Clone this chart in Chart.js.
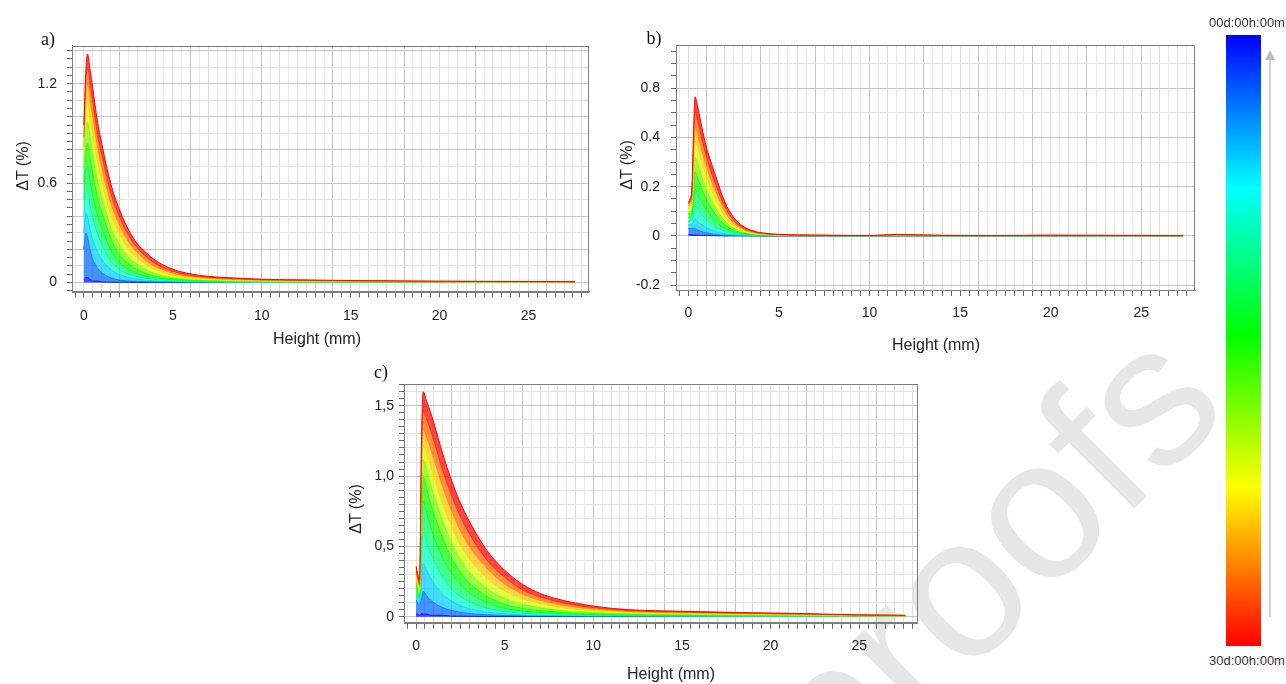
<!DOCTYPE html>
<html>
<head>
<meta charset="utf-8">
<script src="https://cdn.jsdelivr.net/npm/chart.js@4.4.1/dist/chart.umd.min.js"></script>
<style>
  body { margin: 0; background: #fff; width: 1286px; height: 684px; position: relative; overflow: hidden;
         font-family: "Liberation Sans", Arial, sans-serif; color: #222; }
  canvas { position: absolute; z-index: 1; }
  .lbl { position: absolute; white-space: nowrap; transform: translate(-50%, -50%); z-index: 2; }
  .ytitle { font-size: 16px; transform: translate(-50%, -50%) rotate(-90deg); }
  .xtitle { font-size: 16px; }
  .panel { font-family: "Liberation Serif", "Times New Roman", serif; font-size: 18px; color: #111; }
  .cb { font-size: 13px; color: #333; }
  #bar { position: absolute; left: 1226px; top: 35px; width: 35px; height: 611px; z-index: 2;
         background: linear-gradient(to bottom, #0000ff 0%, #00ffff 25%, #00ff00 49%, #ffff00 74%, #ff0000 100%); }
</style>
</head>
<body>
<svg width="1286" height="684" style="position:absolute;left:0;top:0;z-index:0">
  <text x="1232" y="411" text-anchor="end" transform="rotate(-45 1232 411)"
        font-family="Liberation Sans, Arial, sans-serif" font-size="200" fill="#e6e6e6">Journal Pre-proofs</text>
</svg>

<canvas id="chartA" width="600" height="345" style="left:0;top:0"></canvas>
<canvas id="chartB" width="610" height="350" style="left:600px;top:0"></canvas>
<canvas id="chartC" width="600" height="334" style="left:330px;top:350px"></canvas>

<div class="lbl panel" style="left:48px;top:39px">a)</div>
<div class="lbl panel" style="left:654px;top:38px">b)</div>
<div class="lbl panel" style="left:381px;top:372px">c)</div>

<div class="lbl ytitle" style="left:23px;top:166px">ΔT (%)</div>
<div class="lbl ytitle" style="left:627px;top:165px">ΔT (%)</div>
<div class="lbl ytitle" style="left:356px;top:509px">ΔT (%)</div>

<div class="lbl xtitle" style="left:317px;top:339px">Height (mm)</div>
<div class="lbl xtitle" style="left:936px;top:345px">Height (mm)</div>
<div class="lbl xtitle" style="left:671px;top:674px">Height (mm)</div>

<div id="bar"></div>
<div class="lbl cb" style="left:1247px;top:22px">00d:00h:00m</div>
<div class="lbl cb" style="left:1247px;top:660px">30d:00h:00m</div>
<svg width="20" height="600" style="position:absolute;left:1260px;top:40px;z-index:2">
  <line x1="10" y1="18" x2="10" y2="577" stroke="#d0d0d0" stroke-width="2"/>
  <polygon points="5,20 15,20 10,10" fill="#bcbcbc"/>
</svg>

<script>
// scan times, one profile per time (blue = first, red = last)
const TIME_LABELS = ['00d:00h:00m', '03d:00h:00m', '06d:00h:00m', '09d:00h:00m', '12d:00h:00m', '15d:00h:00m',
                     '18d:00h:00m', '21d:00h:00m', '24d:00h:00m', '27d:00h:00m', '30d:00h:00m'];

const X_TICK_VALUES = [0, 5, 10, 15, 20, 25];
const X_TICK_LABELS = ['0', '5', '10', '15', '20', '25'];

// panel a
const A_HEIGHT = [0, 0.1, 0.2, 0.35, 0.5, 0.75, 1, 1.5, 2, 2.5, 3, 3.5, 4, 5, 6, 7, 8, 10, 12, 15, 20, 25, 27.6];
const A_DT = [
  [0.02, 0.03, 0.03, 0.02, 0.01, 0.01, 0.005, 0.003, 0.002, 0.002, 0.001, 0.001, 0.001, 0, 0, 0, 0, 0, 0, 0, 0, 0, 0],
  [0.20, 0.30, 0.28, 0.20, 0.14, 0.09, 0.06, 0.03, 0.015, 0.01, 0.007, 0.005, 0.004, 0.003, 0.002, 0.002, 0.001, 0.001, 0.001, 0.001, 0.001, 0, 0],
  [0.30, 0.42, 0.40, 0.32, 0.26, 0.19, 0.14, 0.08, 0.05, 0.03, 0.02, 0.014, 0.01, 0.006, 0.004, 0.003, 0.002, 0.002, 0.001, 0.001, 0.001, 0.001, 0.001],
  [0.40, 0.55, 0.55, 0.46, 0.39, 0.30, 0.23, 0.13, 0.08, 0.05, 0.035, 0.025, 0.018, 0.01, 0.007, 0.005, 0.004, 0.003, 0.002, 0.002, 0.001, 0.001, 0.001],
  [0.50, 0.68, 0.70, 0.61, 0.52, 0.41, 0.33, 0.20, 0.12, 0.08, 0.055, 0.038, 0.028, 0.016, 0.01, 0.008, 0.006, 0.004, 0.003, 0.003, 0.002, 0.002, 0.001],
  [0.60, 0.80, 0.84, 0.75, 0.66, 0.52, 0.43, 0.27, 0.17, 0.115, 0.08, 0.055, 0.04, 0.023, 0.015, 0.011, 0.008, 0.006, 0.005, 0.004, 0.003, 0.002, 0.002],
  [0.68, 0.92, 0.97, 0.88, 0.78, 0.63, 0.52, 0.34, 0.23, 0.155, 0.11, 0.077, 0.055, 0.031, 0.02, 0.015, 0.011, 0.008, 0.006, 0.005, 0.004, 0.003, 0.003],
  [0.76, 1.02, 1.08, 0.99, 0.89, 0.73, 0.61, 0.41, 0.29, 0.20, 0.145, 0.105, 0.075, 0.043, 0.027, 0.02, 0.015, 0.011, 0.008, 0.007, 0.005, 0.004, 0.003],
  [0.82, 1.12, 1.19, 1.09, 0.99, 0.82, 0.69, 0.48, 0.345, 0.245, 0.18, 0.13, 0.095, 0.055, 0.035, 0.025, 0.019, 0.013, 0.01, 0.008, 0.006, 0.005, 0.004],
  [0.88, 1.20, 1.29, 1.19, 1.08, 0.90, 0.77, 0.54, 0.395, 0.285, 0.21, 0.155, 0.115, 0.067, 0.043, 0.031, 0.024, 0.016, 0.013, 0.01, 0.007, 0.005, 0.004],
  [0.95, 1.26, 1.38, 1.28, 1.17, 0.98, 0.84, 0.60, 0.44, 0.32, 0.235, 0.18, 0.135, 0.08, 0.052, 0.037, 0.03, 0.02, 0.016, 0.012, 0.008, 0.006, 0.005]
];
const A_Y_TICK_VALUES = [0, 0.6, 1.2];
const A_Y_TICK_LABELS = ['0', '0.6', '1.2'];

// panel b
const B_HEIGHT = [0, 0.1, 0.2, 0.3, 0.37, 0.5, 0.75, 1, 1.25, 1.5, 2, 2.5, 3, 3.5, 4, 5, 6, 8, 10, 11.5, 14, 17, 20, 23, 25, 27.3];
const B_DT = [
  [0.005, 0.005, 0.005, 0.004, 0.004, 0.003, 0.002, 0.002, 0.001, 0.001, 0, 0, 0, 0, 0, 0, 0, 0, 0, 0, 0, 0, 0, 0, 0, 0],
  [0.03, 0.03, 0.03, 0.03, 0.03, 0.025, 0.018, 0.013, 0.009, 0.006, 0.003, 0.002, 0.001, 0.001, 0, 0, 0, 0, 0, 0, 0, 0, 0, 0, 0, 0],
  [0.045, 0.045, 0.05, 0.06, 0.07, 0.06, 0.045, 0.034, 0.025, 0.018, 0.009, 0.005, 0.003, 0.002, 0.001, 0.001, 0, 0, 0, 0, 0, 0, 0, 0, 0, 0],
  [0.06, 0.06, 0.065, 0.09, 0.12, 0.11, 0.085, 0.065, 0.05, 0.037, 0.019, 0.01, 0.006, 0.003, 0.002, 0.001, 0.001, 0.001, 0, 0.001, 0, 0, 0, 0, 0, 0],
  [0.075, 0.075, 0.085, 0.13, 0.19, 0.17, 0.135, 0.105, 0.08, 0.06, 0.031, 0.016, 0.009, 0.005, 0.003, 0.002, 0.001, 0.001, 0.001, 0.001, 0.001, 0.001, 0.001, 0, 0, 0],
  [0.09, 0.09, 0.10, 0.18, 0.26, 0.24, 0.19, 0.15, 0.115, 0.088, 0.046, 0.024, 0.013, 0.007, 0.004, 0.003, 0.002, 0.001, 0.001, 0.001, 0.001, 0.001, 0.001, 0.001, 0.001, 0],
  [0.10, 0.10, 0.12, 0.23, 0.32, 0.30, 0.24, 0.19, 0.15, 0.115, 0.062, 0.032, 0.017, 0.009, 0.006, 0.003, 0.002, 0.001, 0.001, 0.002, 0.001, 0.001, 0.001, 0.001, 0.001, 0.001],
  [0.11, 0.12, 0.14, 0.28, 0.38, 0.36, 0.29, 0.24, 0.19, 0.15, 0.08, 0.042, 0.022, 0.012, 0.007, 0.004, 0.002, 0.002, 0.001, 0.002, 0.001, 0.001, 0.002, 0.001, 0.001, 0.001],
  [0.12, 0.13, 0.15, 0.33, 0.44, 0.41, 0.34, 0.28, 0.225, 0.18, 0.10, 0.052, 0.027, 0.015, 0.009, 0.004, 0.003, 0.002, 0.001, 0.003, 0.002, 0.001, 0.002, 0.001, 0.001, 0.001],
  [0.13, 0.14, 0.17, 0.38, 0.50, 0.47, 0.39, 0.32, 0.26, 0.21, 0.12, 0.063, 0.033, 0.018, 0.011, 0.005, 0.003, 0.002, 0.001, 0.004, 0.002, 0.001, 0.002, 0.002, 0.001, 0.001],
  [0.14, 0.15, 0.20, 0.45, 0.566, 0.53, 0.44, 0.36, 0.30, 0.245, 0.14, 0.075, 0.04, 0.022, 0.013, 0.006, 0.004, 0.002, 0.001, 0.006, 0.002, 0.001, 0.003, 0.002, 0.002, 0.001]
];
// the printed axis skips 0.6: its upper label reads 0.8
const B_Y_TICK_VALUES = [-0.2, 0, 0.2, 0.4, 0.6];
const B_Y_TICK_LABELS = ['-0.2', '0', '0.2', '0.4', '0.8'];

// panel c
const C_HEIGHT = [0, 0.1, 0.2, 0.3, 0.4, 0.6, 0.8, 1, 1.5, 2, 2.5, 3, 4, 5, 6, 7, 8, 10, 12, 15, 18, 21, 25, 27.6];
const C_DT = [
  [0.02, 0.02, 0.01, 0.02, 0.02, 0.02, 0.01, 0.01, 0.01, 0.005, 0.005, 0.003, 0.002, 0.002, 0.001, 0.001, 0.001, 0.001, 0.001, 0.001, 0.001, 0.001, 0.001, 0.001],
  [0.12, 0.10, 0.09, 0.13, 0.18, 0.15, 0.12, 0.10, 0.065, 0.045, 0.032, 0.023, 0.014, 0.009, 0.007, 0.005, 0.004, 0.003, 0.003, 0.002, 0.002, 0.002, 0.001, 0.001],
  [0.16, 0.13, 0.11, 0.25, 0.38, 0.33, 0.28, 0.24, 0.16, 0.11, 0.08, 0.057, 0.032, 0.02, 0.014, 0.011, 0.008, 0.006, 0.005, 0.004, 0.003, 0.003, 0.002, 0.002],
  [0.19, 0.15, 0.12, 0.38, 0.60, 0.53, 0.46, 0.40, 0.28, 0.20, 0.145, 0.105, 0.06, 0.036, 0.024, 0.018, 0.014, 0.01, 0.008, 0.006, 0.005, 0.004, 0.003, 0.002],
  [0.22, 0.17, 0.13, 0.52, 0.82, 0.74, 0.65, 0.57, 0.42, 0.31, 0.23, 0.17, 0.10, 0.06, 0.04, 0.03, 0.022, 0.015, 0.011, 0.009, 0.007, 0.006, 0.004, 0.003],
  [0.25, 0.19, 0.15, 0.66, 1.00, 0.91, 0.82, 0.74, 0.56, 0.42, 0.32, 0.24, 0.145, 0.09, 0.06, 0.044, 0.033, 0.022, 0.016, 0.013, 0.01, 0.008, 0.005, 0.004],
  [0.27, 0.21, 0.17, 0.78, 1.12, 1.04, 0.95, 0.87, 0.68, 0.53, 0.41, 0.32, 0.20, 0.13, 0.09, 0.065, 0.048, 0.031, 0.022, 0.017, 0.013, 0.011, 0.006, 0.005],
  [0.29, 0.23, 0.19, 0.88, 1.22, 1.15, 1.07, 0.99, 0.80, 0.64, 0.51, 0.41, 0.27, 0.18, 0.125, 0.09, 0.066, 0.041, 0.028, 0.022, 0.017, 0.014, 0.008, 0.006],
  [0.31, 0.25, 0.21, 0.98, 1.33, 1.27, 1.20, 1.12, 0.92, 0.75, 0.61, 0.50, 0.34, 0.23, 0.16, 0.115, 0.085, 0.052, 0.035, 0.027, 0.021, 0.017, 0.009, 0.007],
  [0.33, 0.27, 0.23, 1.08, 1.46, 1.40, 1.33, 1.25, 1.04, 0.86, 0.71, 0.59, 0.40, 0.28, 0.19, 0.14, 0.105, 0.063, 0.042, 0.032, 0.025, 0.02, 0.011, 0.008],
  [0.36, 0.30, 0.26, 1.20, 1.60, 1.53, 1.46, 1.38, 1.16, 0.97, 0.81, 0.68, 0.47, 0.33, 0.23, 0.165, 0.125, 0.075, 0.05, 0.038, 0.03, 0.024, 0.013, 0.01]
];
const C_Y_TICK_VALUES = [0, 0.5, 1, 1.5];
const C_Y_TICK_LABELS = ['0', '0,5', '1,0', '1,5'];

// same stops as the colour bar
const JET_STOPS = [[0, [0, 0, 255]], [0.25, [0, 255, 255]], [0.49, [0, 255, 0]], [0.74, [255, 255, 0]], [1, [255, 0, 0]]];
function jet(f, alpha = 1) {
  let i = 0;
  while (i < JET_STOPS.length - 2 && f > JET_STOPS[i + 1][0]) i++;
  const [f0, c0] = JET_STOPS[i], [f1, c1] = JET_STOPS[i + 1];
  const t = (f - f0) / (f1 - f0);
  const c = c0.map((v, k) => Math.round(v + (c1[k] - v) * t));
  return `rgba(${c[0]},${c[1]},${c[2]},${alpha})`;
}

const isMult = (v, m) => Math.abs(v / m - Math.round(v / m)) < 1e-6;

function stepTicks(lo, hi, step) {
  const out = [];
  for (let n = Math.ceil(lo / step - 1e-9); n <= Math.floor(hi / step + 1e-9); n++) {
    out.push({ value: +(n * step).toFixed(4) });
  }
  return out;
}

function labelFor(values, labels) {
  return v => {
    const i = values.findIndex(t => Math.abs(t - v) < 1e-6);
    return i < 0 ? '' : labels[i];
  };
}

const framePlugin = {
  id: 'frame',
  afterDraw(chart) {
    const { ctx, chartArea: a } = chart;
    ctx.save();
    ctx.strokeStyle = '#7d7d7d';
    ctx.lineWidth = 1;
    ctx.strokeRect(Math.round(a.left) + 0.5, Math.round(a.top) + 0.5,
                   Math.round(a.right - a.left) - 1, Math.round(a.bottom - a.top));
    ctx.restore();
  }
};

const tickFont = { family: 'Liberation Sans', size: 14 };

function makeChart(id, heights, profiles, o) {
  const n = profiles.length;
  const datasets = profiles.map((vals, i) => {
    const f = i / (n - 1);
    return {
      label: TIME_LABELS[i],
      data: heights.map((h, j) => ({ x: h, y: vals[j] })),
      borderColor: jet(f),
      backgroundColor: jet(f, 0.72),
      borderWidth: 1,
      pointRadius: 0,
      fill: i === 0 ? 'origin' : '-1',
      cubicInterpolationMode: 'monotone',
      order: n - 1 - i   // latest (red) profile drawn on top
    };
  });

  return new Chart(document.getElementById(id), {
    type: 'line',
    data: { datasets },
    plugins: [framePlugin],
    options: {
      responsive: false,
      animation: false,
      layout: { padding: o.padding },
      plugins: { legend: { display: false }, tooltip: { enabled: false }, title: { display: false } },
      scales: {
        x: {
          type: 'linear',
          min: o.xMin, max: o.xMax,
          afterBuildTicks: s => { s.ticks = stepTicks(o.xMin, o.xMax, 0.5); },
          afterFit: s => { s.height = o.xHeight; },
          ticks: {
            autoSkip: false, maxRotation: 0, minRotation: 0, padding: o.xPad,
            font: tickFont, color: '#222',
            callback: labelFor(X_TICK_VALUES, X_TICK_LABELS)
          },
          grid: {
            color: ctx => {
              const v = ctx.tick ? ctx.tick.value : 0;
              if (isMult(v - o.xMajorFrom, o.xMajorEvery)) return '#c4c4c4';
              return isMult(v, 1) ? '#dedede' : '#e9e9e9';
            },
            tickColor: '#666', tickLength: 6
          },
          border: { color: '#7d7d7d' }
        },
        y: {
          min: o.yMin, max: o.yMax,
          afterBuildTicks: s => { s.ticks = stepTicks(o.yMin, o.yMax, 0.05); },
          afterFit: s => { s.width = o.yWidth; },
          ticks: {
            autoSkip: false, padding: o.yPad, font: tickFont, color: '#222',
            callback: labelFor(o.yTickValues, o.yTickLabels)
          },
          grid: {
            color: ctx => {
              const v = ctx.tick ? ctx.tick.value : 0;
              if (isMult(v, o.yMajor)) return '#c4c4c4';
              if (isMult(v, 0.1)) return '#e2e2e2';
              return 'rgba(0,0,0,0)';
            },
            tickColor: '#666', tickLength: 5
          },
          border: { color: '#7d7d7d' }
        }
      }
    }
  });
}

makeChart('chartA', A_HEIGHT, A_DT, {
  padding: { top: 45.6, right: 11, left: 0, bottom: 0 },
  xMin: -0.67, xMax: 28.4, yMin: -0.053, yMax: 1.43,
  xHeight: 53.7, yWidth: 72, xPad: 10, yPad: 10,
  xMajorFrom: 2, xMajorEvery: 4, yMajor: 0.2,
  yTickValues: A_Y_TICK_VALUES, yTickLabels: A_Y_TICK_LABELS
});

makeChart('chartB', B_HEIGHT, B_DT, {
  padding: { top: 45, right: 15, left: 0, bottom: 0 },
  xMin: -0.68, xMax: 27.96, yMin: -0.22, yMax: 0.776,
  xHeight: 60, yWidth: 76, xPad: 9, yPad: 11,
  xMajorFrom: 1, xMajorEvery: 3, yMajor: 0.2,
  yTickValues: B_Y_TICK_VALUES, yTickLabels: B_Y_TICK_LABELS
});

makeChart('chartC', C_HEIGHT, C_DT, {
  padding: { top: 34, right: 12.3, left: 0, bottom: 0 },
  xMin: -0.68, xMax: 28.3, yMin: -0.043, yMax: 1.655,
  xHeight: 61.3, yWidth: 74, xPad: 9, yPad: 5,
  xMajorFrom: 2, xMajorEvery: 4, yMajor: 0.5,
  yTickValues: C_Y_TICK_VALUES, yTickLabels: C_Y_TICK_LABELS
});
</script>
</body>
</html>
